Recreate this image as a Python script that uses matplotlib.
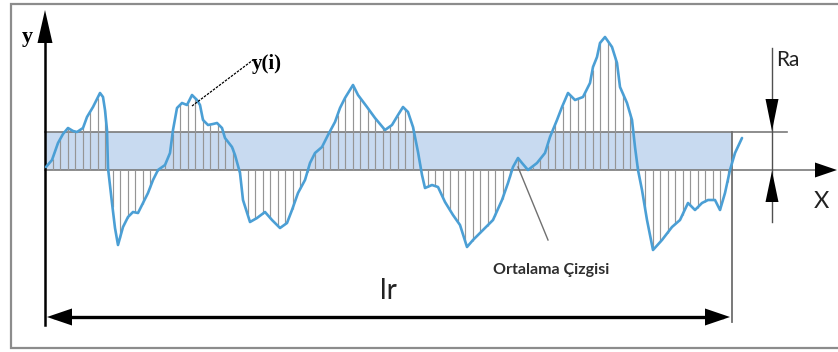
import numpy as np
import matplotlib
matplotlib.use("Agg")
import matplotlib.pyplot as plt
from matplotlib.patches import Polygon

# ---- data (profile units: x along sampling length, y height above mean line) ----
profile_x = [1, 7, 13, 18, 23, 28, 32, 38, 42, 48, 55, 58, 60, 62, 63, 67, 70, 73, 78, 83,
             88, 93, 98, 103, 108, 113, 120, 125, 128, 132, 137, 142, 147, 152, 155, 158,
             163, 168, 172, 177, 180, 187, 190, 195, 198, 205, 212, 220, 227, 235, 242,
             247, 253, 260, 265, 270, 277, 283, 290, 295, 300, 308, 313, 322, 330, 340,
             347, 353, 358, 363, 368, 373, 377, 380, 387, 393, 400, 408, 415, 422, 428,
             438, 448, 457, 463, 468, 473, 477, 483, 492, 500, 505, 512, 517, 523, 530,
             538, 545, 548, 552, 555, 560, 567, 572, 575, 582, 587, 590, 593, 597, 602,
             608, 617, 627, 635, 643, 650, 657, 663, 670, 675, 680, 685, 690, 697]
profile_y = [3, 10, 27, 36, 42, 39, 38, 42, 53, 63, 77, 73, 60, 40, 2, -33, -58, -75, -57,
             -47, -42, -43, -33, -23, -10, 0, 5, 17, 40, 62, 67, 65, 75, 70, 65, 50, 45,
             46, 47, 42, 32, 23, 15, -3, -30, -52, -48, -42, -50, -58, -53, -40, -23, -10,
             7, 17, 23, 35, 48, 62, 72, 85, 75, 63, 52, 40, 45, 55, 63, 58, 43, 18, -5,
             -18, -15, -17, -32, -45, -55, -77, -70, -60, -50, -30, -13, 3, 12, 7, 0, 7,
             17, 33, 50, 63, 77, 70, 73, 87, 103, 113, 127, 133, 123, 107, 83, 67, 50, 23,
             0, -20, -50, -80, -70, -57, -50, -33, -40, -33, -30, -30, -40, -23, 0, 17, 32]
Ra = 38          # height of the shaded mean-deviation band
lr = 687         # sampling length
hatch_step = 7.5
hatch_x = np.arange(hatch_step, lr, hatch_step)
hatch_top = np.interp(hatch_x, profile_x, profile_y)

labels = {"y": "y", "yi": "y(i)", "ra": "Ra", "x": "X", "lr": "lr", "mean": "Ortalama Çizgisi"}

# ---- figure ----
fig = plt.figure(figsize=(8.38, 3.52), dpi=100)
ax = fig.add_axes([0, 0, 1, 1])
ax.set_xlim(-45, 793)
ax.set_ylim(-182, 170)
ax.axis("off")

grey = "#7a7a7a"
blue = "#4b9fd5"

# outer frame (left, top, bottom)
ax.plot([793, -34, -34, 793], [166, 166, -178, -178], color="#8c8c8c", lw=1.6,
        solid_joinstyle="miter", zorder=1)

# band
ax.fill_between([0, lr], 0, Ra, color="#c8daf0", lw=0, zorder=1)
ax.plot([0, lr + 55], [Ra, Ra], color=grey, lw=1.2, zorder=2)
ax.plot([0, lr + 83], [0, 0], color=grey, lw=1.2, zorder=2)

# hatching
ax.vlines(hatch_x, 0, hatch_top, color="#959595", lw=0.85, zorder=3)

# profile
ax.plot(profile_x, profile_y, color=blue, lw=1.9, solid_joinstyle="round",
        solid_capstyle="round", zorder=5)

# right limit line
ax.plot([lr, lr], [Ra, -152], color="#6e6e6e", lw=1.3, zorder=2)


def tri(tip, base_c, half, color="black"):
    tx, ty = tip
    bx, by = base_c
    dx, dy = bx - tx, by - ty
    n = np.hypot(dx, dy)
    px, py = -dy / n * half, dx / n * half
    ax.add_patch(Polygon([(tx, ty), (bx + px, by + py), (bx - px, by - py)],
                         closed=True, color=color, lw=0, zorder=6))


# y axis
ax.plot([0, 0], [-155, 130], color="black", lw=1.8, zorder=4)
tri((0, 160), (0, 127), 7.5)
# x axis arrow head
tri((792, 0), (770, 0), 7.5)

# lr dimension
ax.plot([10, lr - 10], [-147, -147], color="black", lw=2.4, zorder=4)
tri((2, -147), (27, -147), 8.5)
tri((lr - 2, -147), (lr - 27, -147), 8.5)

# Ra dimension
rx = 727
ax.plot([rx, rx], [122, -52], color="#505050", lw=1.0, zorder=4)
tri((rx, Ra + 1), (rx, Ra + 33), 6.5)
tri((rx, -1), (rx, -32), 6.5)

# leaders
ax.plot([147, 208], [64, 110], color="black", lw=0.9, ls=(0, (2, 1)), zorder=6)
ax.plot([473, 503], [3, -70], color="#707070", lw=1.0, zorder=6)

# texts
ax.text(-18, 133, labels["y"], fontsize=16, fontweight="bold", family="Liberation Serif",
        ha="center", va="center", color="black")
ax.text(207, 106, labels["yi"], fontsize=15, fontweight="bold", family="Liberation Serif",
        ha="left", va="center", color="black")
ax.text(731, 110, labels["ra"], fontsize=15, family="Lato", ha="left", va="center",
        color="#222222")
ax.text(769, -32, labels["x"], fontsize=17, family="Lato", ha="left", va="center",
        color="#222222")
ax.text(343, -121, labels["lr"], fontsize=20, family="Lato", ha="center", va="center",
        color="#222222")
ax.text(448, -100, labels["mean"], fontsize=11.5, fontweight="bold", family="Lato",
        ha="left", va="center", color="#2e2e2e")

fig.savefig("out.png", dpi=100)
